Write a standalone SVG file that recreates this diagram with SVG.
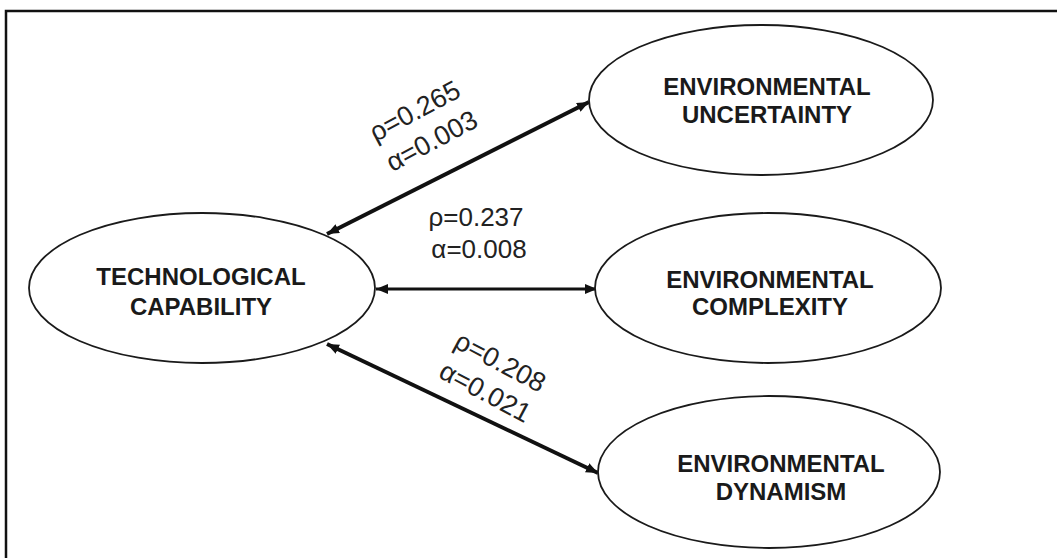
<svg xmlns="http://www.w3.org/2000/svg" width="1057" height="558" viewBox="0 0 1057 558">
<style>
.node ellipse{fill:#fff;stroke:#1a1a1a;stroke-width:1.8}
.node text{font-family:"Liberation Sans",Arial,sans-serif;font-weight:bold;font-size:24px;fill:#1a1a1a;text-anchor:middle}
.lbl{font-family:"Liberation Sans",Arial,sans-serif;font-size:26px;fill:#222;text-anchor:middle}
.rl{font-size:27px}
.edge{stroke:#111;fill:none}
</style>
<defs>
<marker id="ah" viewBox="0 0 12 10" refX="12" refY="5" markerWidth="12" markerHeight="10" markerUnits="userSpaceOnUse" orient="auto-start-reverse">
<path d="M0,0 L12,5 L0,10 z" fill="#111"/>
</marker>
</defs>
<rect width="1057" height="558" fill="#fff"/>
<path d="M6,558 V11 H1057" fill="none" stroke="#111" stroke-width="2.5"/>
<g id="connectors">
<line class="edge" x1="327" y1="234" x2="589" y2="102" stroke-width="4" marker-start="url(#ah)" marker-end="url(#ah)"/>
<line class="edge" x1="376" y1="289" x2="597" y2="289" stroke-width="3" marker-start="url(#ah)" marker-end="url(#ah)"/>
<line class="edge" x1="327" y1="344" x2="598" y2="473" stroke-width="4" marker-start="url(#ah)" marker-end="url(#ah)"/>
<text class="lbl rl" transform="translate(419,119) rotate(-28)">ρ=0.265</text>
<text class="lbl rl" transform="translate(436,149) rotate(-28)">α=0.003</text>
<text class="lbl" x="476" y="226">ρ=0.237</text>
<text class="lbl" x="479" y="258">α=0.008</text>
<text class="lbl rl" transform="translate(496,370) rotate(28)">ρ=0.208</text>
<text class="lbl rl" transform="translate(481,400) rotate(28)">α=0.021</text>
</g>
<g id="tc" class="node">
<ellipse cx="202" cy="288" rx="173" ry="75"/>
<text x="201" y="285">TECHNOLOGICAL</text>
<text x="201" y="315">CAPABILITY</text>
</g>
<g id="eu" class="node">
<ellipse cx="761" cy="100" rx="172" ry="75"/>
<text x="767" y="95">ENVIRONMENTAL</text>
<text x="767" y="123">UNCERTAINTY</text>
</g>
<g id="ec" class="node">
<ellipse cx="768" cy="288" rx="173" ry="75"/>
<text x="770" y="288">ENVIRONMENTAL</text>
<text x="770" y="315">COMPLEXITY</text>
</g>
<g id="ed" class="node">
<ellipse cx="769" cy="472" rx="171" ry="76" stroke-width="2.5"/>
<text x="781" y="472">ENVIRONMENTAL</text>
<text x="781" y="500">DYNAMISM</text>
</g>
</svg>
